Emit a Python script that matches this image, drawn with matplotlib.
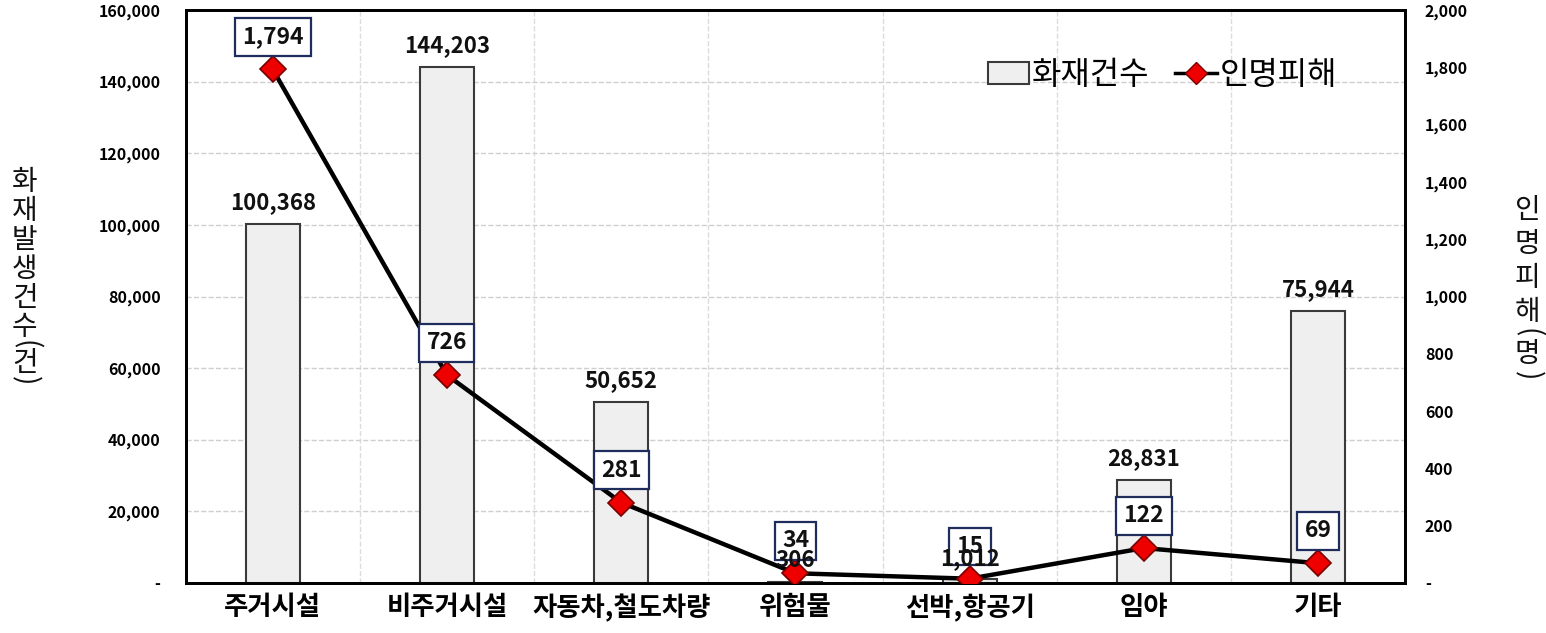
import matplotlib.pyplot as plt
from matplotlib.patches import Patch
from matplotlib.lines import Line2D
from matplotlib.ticker import FuncFormatter, MultipleLocator

plt.rcParams['font.family'] = ['Noto Sans CJK KR', 'DejaVu Sans']

categories = ['주거시설', '비주거시설', '자동차,철도차량', '위험물', '선박,항공기', '임야', '기타']
fire_counts = [100368, 144203, 50652, 306, 1012, 28831, 75944]
casualties = [1794, 726, 281, 34, 15, 122, 69]


def dash_zero(v, pos):
    return '-' if v == 0 else f'{int(v):,}'


def stacked_label(x, y_top, step, text):
    # write the title one glyph per row, parentheses turned sideways and packed tighter
    y = y_top
    prev_paren = False
    for k, ch in enumerate(text):
        paren = ch in '()'
        if k > 0:
            y -= step * (0.62 if (paren or prev_paren) else 1.0)
        fig.text(x, y, ch, ha='center', va='center', fontsize=20,
                 rotation=-90 if paren else 0, color='#111111')
        prev_paren = paren


fig, ax = plt.subplots(figsize=(15.46, 6.33), dpi=100)
fig.subplots_adjust(left=0.12, right=0.909, top=0.984, bottom=0.079)

x = range(len(categories))
ax.bar(x, fire_counts, width=0.31, color='#efefef', edgecolor='#3a3a3a',
       linewidth=1.5, zorder=3)

ax.set_xlim(-0.5, len(categories) - 0.5)
ax.set_ylim(0, 160000)
ax.yaxis.set_major_locator(MultipleLocator(20000))
ax.yaxis.set_major_formatter(FuncFormatter(dash_zero))
ax.set_xticks(list(x))
ax.set_xticklabels(categories, fontsize=19, fontweight='bold')
ax.set_xticks([i + 0.5 for i in range(len(categories) - 1)], minor=True)
ax.tick_params(axis='x', which='both', length=0, pad=8)
ax.tick_params(axis='y', length=0, pad=18, labelsize=11.5)
for lab in ax.get_yticklabels():
    lab.set_fontweight('bold')
ax.grid(True, axis='y', which='major', color='#cfcfcf', linestyle='--', linewidth=1)
ax.grid(True, axis='x', which='minor', color='#dcdcdc', linestyle='--', linewidth=1)
for s in ax.spines.values():
    s.set_linewidth(2)
    s.set_color('black')

# casualty line on the secondary axis
ax2 = ax.twinx()
ax2.plot(list(x), casualties, color='black', linewidth=3.2, marker='D',
         markersize=13, markerfacecolor='#ee0000', markeredgecolor='#7a0000',
         markeredgewidth=1.2, zorder=5)
for i, v in enumerate(casualties):
    ax2.annotate(f'{v:,}', (i, v), xytext=(0, 15), textcoords='offset points',
                 ha='center', va='bottom', fontsize=16.5, fontweight='bold',
                 color='#111111', zorder=6,
                 bbox=dict(boxstyle='square,pad=0.32', facecolor='white',
                           edgecolor='#1f2d5c', linewidth=1.6))

# bar value labels drawn last so they sit over the casualty boxes
for i, v in enumerate(fire_counts):
    ax2.annotate(f'{v:,}', (i, v), xycoords=ax.transData, xytext=(0, 7),
                 textcoords='offset points', ha='center', va='bottom',
                 fontsize=16, fontweight='bold', color='#111111', zorder=7)

ax2.set_ylim(0, 2000)
ax2.yaxis.set_major_locator(MultipleLocator(200))
ax2.yaxis.set_major_formatter(FuncFormatter(dash_zero))
ax2.tick_params(axis='y', length=0, pad=14, labelsize=11.5)
for lab in ax2.get_yticklabels():
    lab.set_fontweight('bold')
for s in ax2.spines.values():
    s.set_linewidth(2)

handles = [
    Patch(facecolor='#efefef', edgecolor='#3a3a3a', linewidth=1.5),
    Line2D([], [], color='black', linewidth=2.5, marker='D', markersize=11,
           markerfacecolor='#ee0000', markeredgecolor='#7a0000'),
]
ax2.legend(handles, ['화재건수', '인명피해'], loc='upper right',
           bbox_to_anchor=(0.968, 0.965), frameon=False, fontsize=23,
           ncol=2, handlelength=1.3, handletextpad=0.1, columnspacing=0.8)

stacked_label(0.016, 1 - 182 / 633, 29 / 633, '화재발생건수(건)')
stacked_label(0.988, 1 - 210 / 633, 34 / 633, '인명피해(명)')

fig.savefig('out.png', dpi=100)
